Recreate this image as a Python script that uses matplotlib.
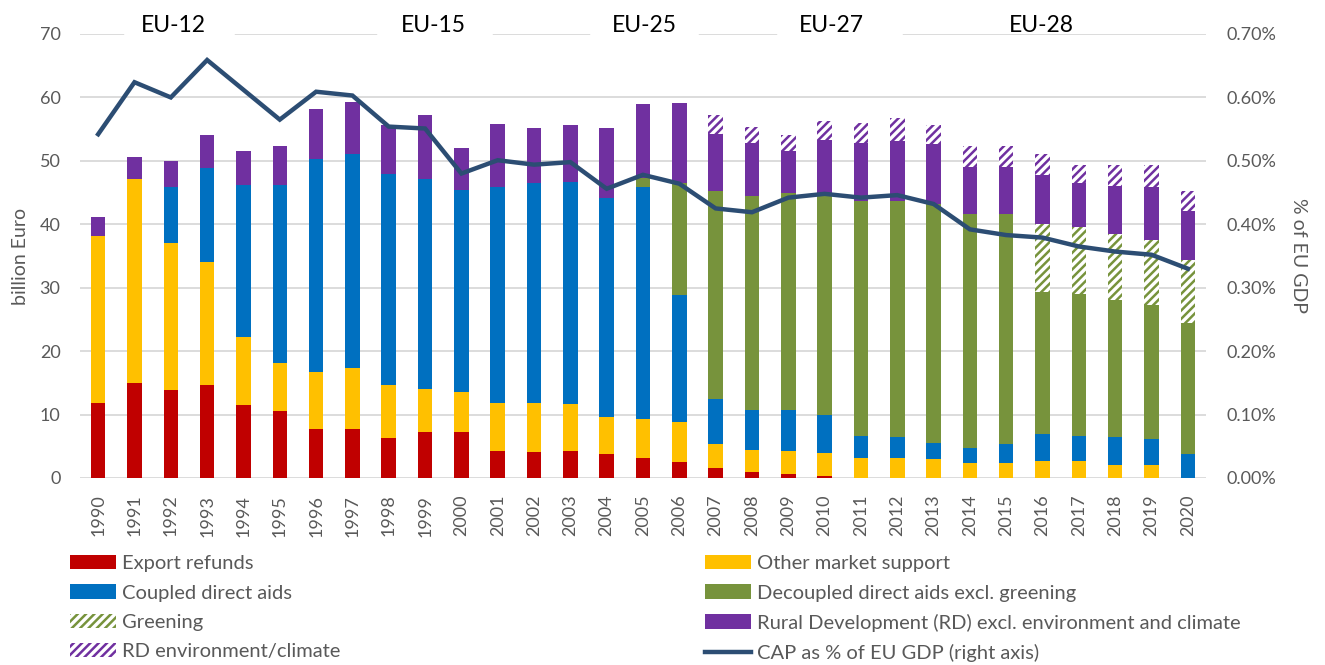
# CAP expenditure by measure, 1990-2020, with CAP as share of EU GDP

import numpy as np
import matplotlib
matplotlib.use("Agg")
import matplotlib.pyplot as plt
from matplotlib.ticker import FuncFormatter

plt.rcParams['font.family'] = ['Lato', 'DejaVu Sans']
plt.rcParams['hatch.linewidth'] = 1.8

years = list(range(1990, 2021))

# billion Euro, stacked bottom to top
export_refunds = [11.8, 14.9, 13.8, 14.6, 11.5, 10.6, 7.7, 7.7, 6.3, 7.2, 7.2, 4.2, 4.1, 4.3, 3.75, 3.2,
                  2.6, 1.5, 0.9, 0.6, 0.3, 0, 0, 0, 0, 0, 0, 0, 0, 0, 0]
other_market = [26.4, 32.2, 23.2, 19.5, 10.7, 7.6, 9.0, 9.6, 8.4, 6.9, 6.4, 7.6, 7.8, 7.4, 5.85, 6.1,
                6.2, 3.8, 3.5, 3.6, 3.6, 3.2, 3.2, 3.0, 2.4, 2.4, 2.7, 2.7, 2.1, 2.1, 0]
coupled = [0, 0, 8.8, 14.8, 24.0, 28.0, 33.6, 33.8, 33.3, 33.0, 31.8, 34.1, 34.6, 35.0, 34.5, 36.6,
           20.0, 7.2, 6.3, 6.5, 6.0, 3.5, 3.2, 2.5, 2.3, 2.9, 4.3, 4.0, 4.3, 4.0, 3.8]
decoupled = [0, 0, 0, 0, 0, 0, 0, 0, 0, 0, 0, 0, 0, 0, 0, 1.4,
             17.7, 32.8, 33.7, 34.3, 34.7, 36.9, 37.2, 37.7, 36.9, 36.3, 22.3, 22.3, 21.7, 21.2, 20.6]
greening = [0] * 26 + [10.8, 10.5, 10.3, 10.2, 9.9]
rural_dev = [2.9, 3.5, 4.2, 5.1, 5.3, 6.1, 7.9, 8.2, 7.7, 10.2, 6.7, 9.9, 8.7, 9.0, 11.1, 11.6,
             12.7, 9.0, 8.4, 6.6, 8.7, 9.2, 9.5, 9.4, 7.5, 7.5, 7.7, 7.0, 7.7, 8.3, 7.8]
rd_env = [0] * 17 + [2.9, 2.6, 2.4, 3.0, 3.2, 3.6, 3.1, 3.2, 3.2, 3.3, 2.9, 3.3, 3.6, 3.2]

# CAP as % of EU GDP (right axis)
cap_gdp = [0.542, 0.624, 0.600, 0.659, 0.612, 0.565, 0.609, 0.603, 0.554, 0.551, 0.480, 0.501,
           0.494, 0.498, 0.456, 0.478, 0.464, 0.425, 0.419, 0.442, 0.448, 0.442, 0.446, 0.432,
           0.392, 0.383, 0.379, 0.365, 0.357, 0.352, 0.330]

eu_labels = ['EU-12', 'EU-15', 'EU-25', 'EU-27', 'EU-28']
eu_label_pos = [2.07, 9.24, 15.03, 20.18, 25.97]
eu_gaps = [(0.8, 3.69), (7.77, 10.78), (13.62, 16.46), (18.78, 22.08), None]

series = [
    ('Export refunds', export_refunds, '#C00000', None),
    ('Other market support', other_market, '#FFC000', None),
    ('Coupled direct aids', coupled, '#0070C0', None),
    ('Decoupled direct aids excl. greening', decoupled, '#77933C', None),
    ('Greening', greening, '#77933C', '////'),
    ('Rural Development (RD) excl. environment and climate', rural_dev, '#7030A0', None),
    ('RD environment/climate', rd_env, '#7030A0', '////'),
]

grey = '#595959'
line_col = '#2C4D73'

fig = plt.figure(figsize=(13.25, 6.65), dpi=100)
ax = fig.add_axes([80/1325, (665-478)/665, 1126/1325, 444/665])
x = np.arange(len(years))

bottom = np.zeros(len(years))
handles = {}
for name, vals, col, hatch in series:
    vals = np.array(vals, dtype=float)
    if hatch:
        b = ax.bar(x, vals, 0.4, bottom=bottom, color='white', edgecolor=col,
                   hatch=hatch, linewidth=0, label=name)
    else:
        b = ax.bar(x, vals, 0.4, bottom=bottom, color=col, linewidth=0, label=name)
    handles[name] = b
    bottom += vals

ax.set_xlim(-0.5, len(years) - 0.5)
ax.set_ylim(0, 70)
ax.set_yticks(range(0, 71, 10))
ax.set_xticks(x)
ax.set_xticklabels([str(y) for y in years], rotation=90)
ax.set_axisbelow(True)
ax.yaxis.grid(True, color='#D9D9D9', linewidth=1.3)
for s in ax.spines.values():
    s.set_visible(False)
ax.tick_params(axis='both', length=0, labelsize=13, labelcolor=grey)
ax.tick_params(axis='y', pad=14)
ax.tick_params(axis='x', pad=12)
ax.set_ylabel('billion Euro', fontsize=14, color=grey, labelpad=8)

ax2 = ax.twinx()
ax2.set_ylim(0, 0.7)
ax2.set_yticks(np.arange(0, 0.71, 0.1))
ax2.yaxis.set_major_formatter(FuncFormatter(lambda v, p: '%.2f%%' % v))
for s in ax2.spines.values():
    s.set_visible(False)
ax2.tick_params(axis='y', length=0, labelsize=13, labelcolor=grey, pad=15)
ax2.set_ylabel('% of EU GDP', fontsize=14, color=grey, rotation=270, labelpad=22)
ln, = ax2.plot(x, cap_gdp, color=line_col, linewidth=3.2, solid_joinstyle='miter',
               label='CAP as % of EU GDP (right axis)')

# enlargement labels sitting on the top gridline
for lab, pos, gap in zip(eu_labels, eu_label_pos, eu_gaps):
    if gap:
        ax.plot(gap, [70, 70], color='white', linewidth=4, clip_on=False, zorder=5)
    ax.text(pos, 71.4, lab, ha='center', va='center', fontsize=16.5, color='black', zorder=6)

left_items = ['Export refunds', 'Coupled direct aids', 'Greening', 'RD environment/climate']
right_items = ['Other market support', 'Decoupled direct aids excl. greening',
               'Rural Development (RD) excl. environment and climate']

kw = dict(frameon=False, fontsize=14.5, handlelength=2.3, handleheight=0.72,
          handletextpad=0.3, labelspacing=0.6, borderpad=0, borderaxespad=0,
          labelcolor=grey)
leg1 = fig.legend([handles[n] for n in left_items], left_items, loc='upper left',
                  bbox_to_anchor=(70/1325, 1 - 555/665), **kw)
leg2 = fig.legend([handles[n] for n in right_items] + [ln], right_items + [ln.get_label()],
                  loc='upper left', bbox_to_anchor=(705/1325, 1 - 555/665), **kw)

plt.savefig('out.png', dpi=100)
